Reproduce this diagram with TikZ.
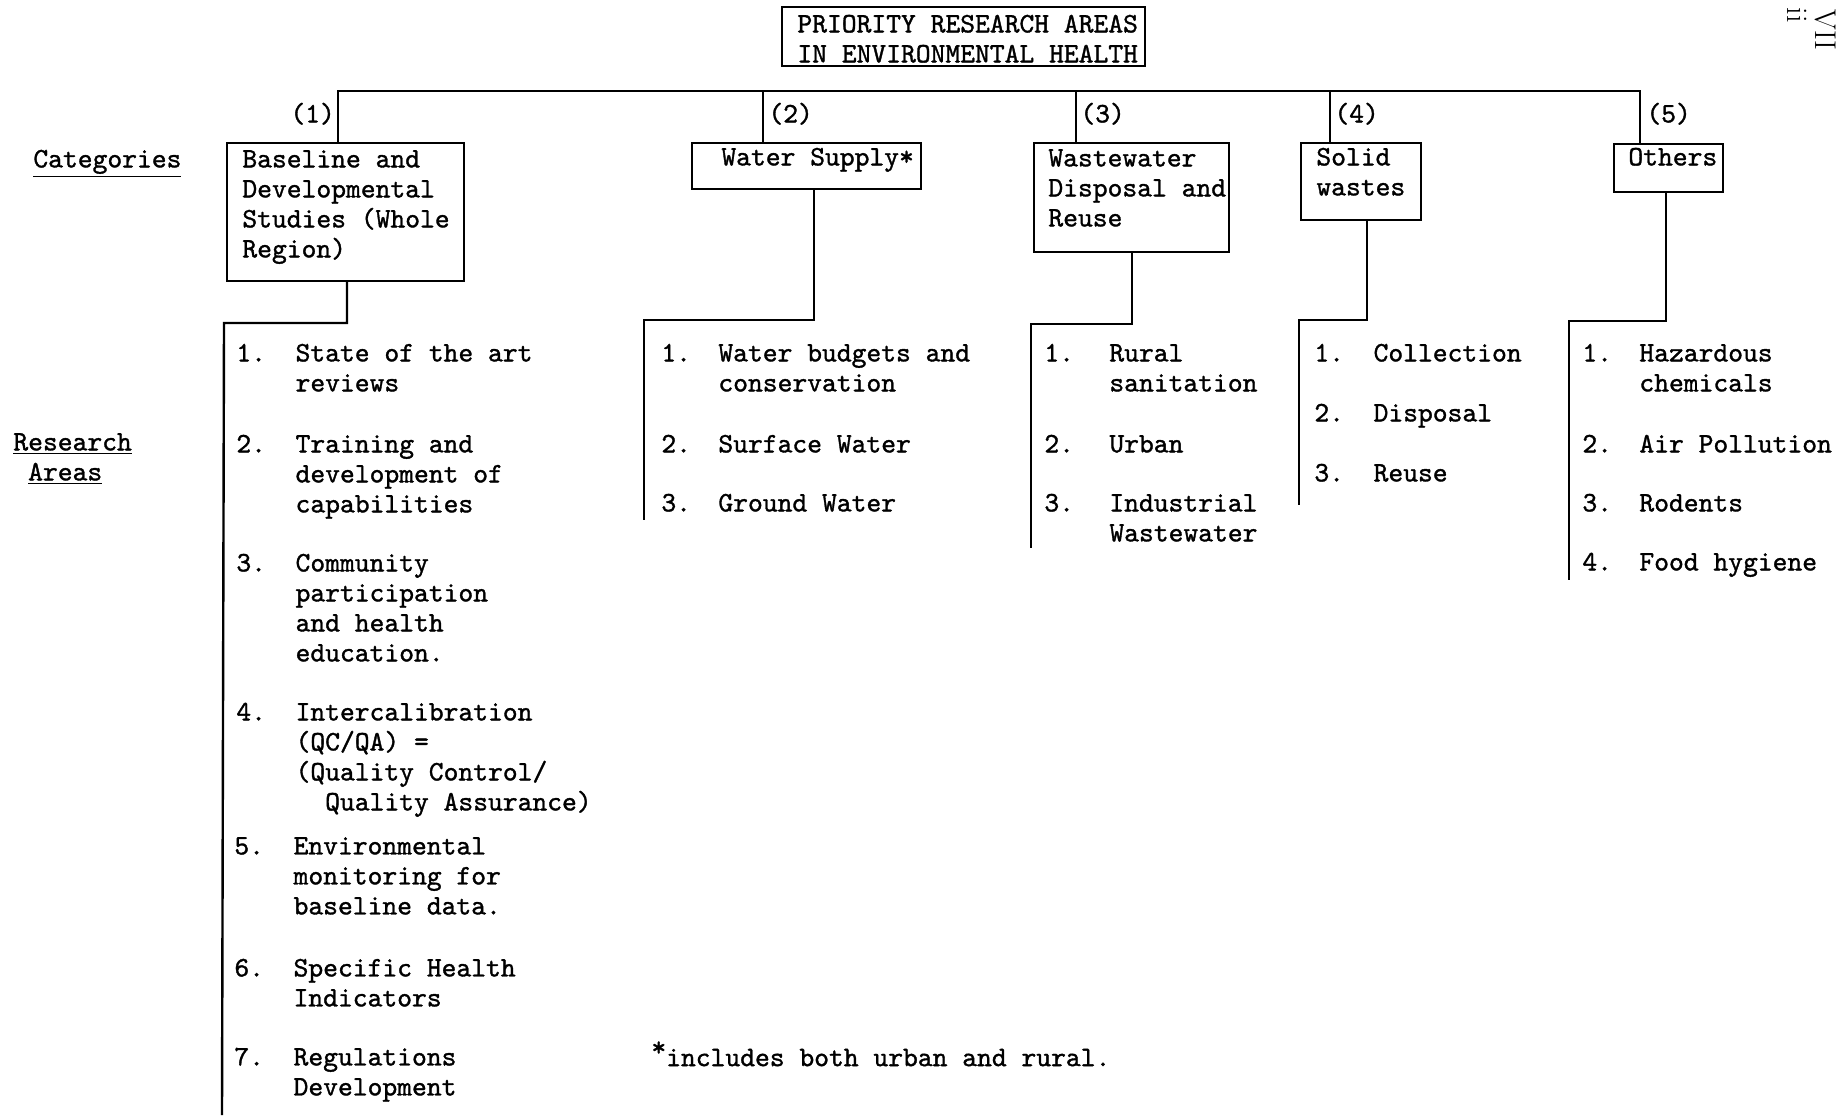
\documentclass[tikz,border=0pt]{standalone}
\usepackage{fontspec}
\setmonofont{lmmono10-regular.otf}[RawFeature={embolden=1.2}]
\usetikzlibrary{fit}
\newcommand{\mystrut}{\rule{0pt}{12pt}}
\newcommand{\itemno}[2][29.6pt]{\makebox[#1][l]{\mystrut #2}}
\newcommand{\myind}[1][29.6pt]{\hspace*{#1}}
\begin{document}
\begin{tikzpicture}[x=0.5pt,y=-0.5pt,
  txt/.style={font=\fontsize{14.1}{15}\selectfont\ttfamily, inner sep=0pt, anchor=north west, align=left},
  boxnode/.style={draw, line width=1.2pt, inner sep=0pt},
  conn/.style={line width=1.2pt},
  pagemark/.style={font=\fontsize{15}{16}\selectfont\rmfamily, inner sep=0pt, rotate=-90}]

\path[use as bounding box, fill=white] (0,0) rectangle (1840,1115);

% title
\node[txt] (ttl) at (797,8) {\mystrut PRIORITY RESEARCH AREAS\\IN ENVIRONMENTAL HEALTH};
\node[boxnode, fit={(782,7) (1145,66)}] (ttlbox) {};

% page marks
\node[pagemark] (pgA) at (1825,30) {VII};
\node[pagemark] (pgB) at (1797,15) {ii};

% side labels
\node[txt] (lcat) at (33,143) {\mystrut\underline{Categories}};
\node[txt] (lres) at (13,426) {\mystrut\underline{Research}\\\hspace*{7.4pt}\underline{Areas}};

% category numbers
\node[txt] (n1) at (290,98) {\mystrut(1)};
\node[txt] (n2) at (768,98) {\mystrut(2)};
\node[txt] (n3) at (1080,98) {\mystrut(3)};
\node[txt] (n4) at (1334,98) {\mystrut(4)};
\node[txt] (n5) at (1646,98) {\mystrut(5)};

% category boxes
\node[boxnode, fit={(227,143) (464,281)}] (b1) {};
\node[boxnode, fit={(692,143) (921,189)}] (b2) {};
\node[boxnode, fit={(1034,143) (1229,252)}] (b3) {};
\node[boxnode, fit={(1301,143) (1421,220)}] (b4) {};
\node[boxnode, fit={(1614,144) (1723,192)}] (b5) {};

\node[txt] (b1t) at (242,143) {\mystrut Baseline and\\Developmental\\Studies (Whole\\Region)};
\node[txt] (b2t) at (721,141) {\mystrut Water Supply*};
\node[txt] (b3t) at (1048,142) {\mystrut Wastewater\\Disposal and\\Reuse};
\node[txt] (b4t) at (1316,141) {\mystrut Solid\\wastes};
\node[txt] (b5t) at (1628,141) {\mystrut Others};

% bus and drops
\coordinate (d1) at (338,91);
\coordinate (d2) at (763,91);
\coordinate (d3) at (1076,91);
\coordinate (d4) at (1330,91);
\coordinate (d5) at (1640,91);
\draw[conn] (d1 |- b1.north) -- (d1) -- (d5) -- (d5 |- b5.north);
\draw[conn] (d2) -- (d2 |- b2.north);
\draw[conn] (d3) -- (d3 |- b3.north);
\draw[conn] (d4) -- (d4 |- b4.north);

% stems to research areas
\coordinate (s1) at (347,323);  \coordinate (c1) at (224,323);  \coordinate (e1) at (222,1115);
\coordinate (s2) at (814,320);  \coordinate (c2) at (644,320);  \coordinate (e2) at (644,520);
\coordinate (s3) at (1132,324); \coordinate (c3) at (1031,324); \coordinate (e3) at (1031,548);
\coordinate (s4) at (1367,320); \coordinate (c4) at (1299,320); \coordinate (e4) at (1299,505);
\coordinate (s5) at (1666,321); \coordinate (c5) at (1569,321); \coordinate (e5) at (1569,580);
\draw[conn] (s1 |- b1.south) -- (s1) -- (c1) -- (e1);
\draw[conn] (s2 |- b2.south) -- (s2) -- (c2) -- (e2);
\draw[conn] (s3 |- b3.south) -- (s3) -- (c3) -- (e3);
\draw[conn] (s4 |- b4.south) -- (s4) -- (c4) -- (e4);
\draw[conn] (s5 |- b5.south) -- (s5) -- (c5) -- (e5);

% column 1
\node[txt] (r11) at (236,337) {\itemno{1.}State of the art\\\myind reviews};
\node[txt] (r12) at (236,428) {\itemno{2.}Training and\\\myind development of\\\myind capabilities};
\node[txt] (r13) at (236,547) {\itemno{3.}Community\\\myind participation\\\myind and health\\\myind education.};
\node[txt] (r14) at (236,696) {\itemno{4.}Intercalibration\\\myind (QC/QA) =\\\myind (Quality Control/\\\myind[37pt] Quality Assurance)};
\node[txt] (r15) at (234,830) {\itemno{5.}Environmental\\\myind monitoring for\\\myind baseline data.};
\node[txt] (r16) at (234,952) {\itemno{6.}Specific Health\\\myind Indicators};
\node[txt] (r17) at (234,1041) {\itemno{7.}Regulations\\\myind Development};

% column 2
\node[txt] (r21) at (661,337) {\itemno[28.5pt]{1.}Water budgets and\\\myind[28.5pt]conservation};
\node[txt] (r22) at (661,428) {\itemno[28.5pt]{2.}Surface Water};
\node[txt] (r23) at (661,487) {\itemno[28.5pt]{3.}Ground Water};

% column 3
\node[txt] (r31) at (1044,337) {\itemno[32.5pt]{1.}Rural\\\myind[32.5pt]sanitation};
\node[txt] (r32) at (1044,428) {\itemno[32.5pt]{2.}Urban};
\node[txt] (r33) at (1044,487) {\itemno[32.5pt]{3.}Industrial\\\myind[32.5pt]Wastewater};

% column 4
\node[txt] (r41) at (1314,337) {\itemno{1.}Collection};
\node[txt] (r42) at (1314,397) {\itemno{2.}Disposal};
\node[txt] (r43) at (1314,457) {\itemno{3.}Reuse};

% column 5
\node[txt] (r51) at (1582,337) {\itemno[28.5pt]{1.}Hazardous\\\myind[28.5pt]chemicals};
\node[txt] (r52) at (1582,428) {\itemno[28.5pt]{2.}Air Pollution};
\node[txt] (r53) at (1582,487) {\itemno[28.5pt]{3.}Rodents};
\node[txt] (r54) at (1582,546) {\itemno[28.5pt]{4.}Food hygiene};

% footnote
\node[txt] (fn) at (651,1041) {\mystrut\raisebox{5pt}{*}includes both urban and rural.};

\end{tikzpicture}
\end{document}
